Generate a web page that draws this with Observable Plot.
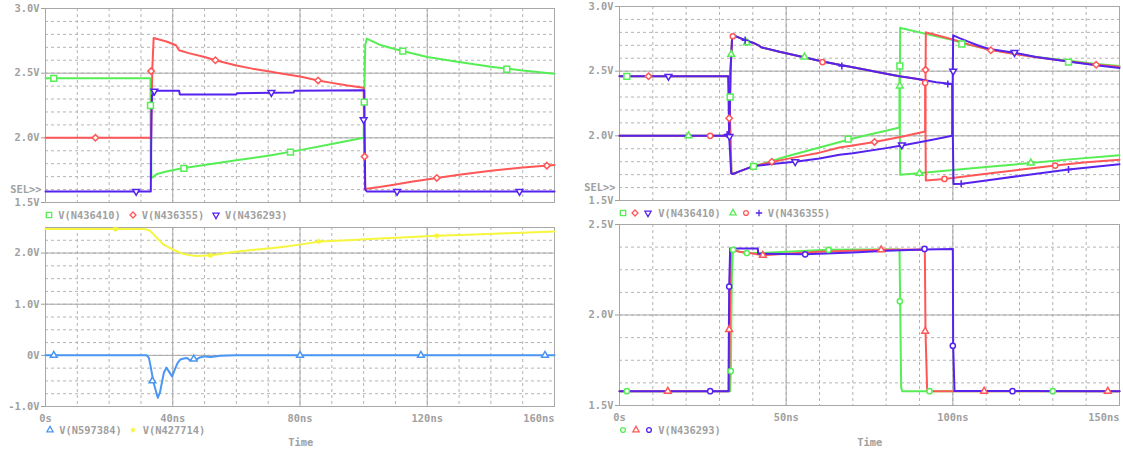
<!DOCTYPE html>
<html><head><meta charset="utf-8">
<script src="https://cdn.jsdelivr.net/npm/d3@7"></script>
<script src="https://cdn.jsdelivr.net/npm/@observablehq/plot@0.6"></script>
<style>
body{margin:0;background:#fff;}
#root{position:relative;width:1123px;height:450px;overflow:hidden;background:#fff;font-family:"DejaVu Sans Mono",monospace;}
.t{position:absolute;font-size:10.4px;line-height:12px;color:#a0a0a0;font-weight:bold;white-space:pre;}
.s{position:absolute;}
</style></head><body><div id="root"></div><script>
// ---------------- DATA ----------------
// Top-left panel (0..160 ns, 1.5..3.0 V)
const tlT410 = [0, 33, 33.1, 33.2, 33.3, 34, 35, 38, 43, 50, 60, 70, 80, 90, 100, 100.2, 100.5, 101, 105, 110, 120, 130, 140, 150, 160];
const tlV410 = [2.46, 2.46, 1.69, 1.86, 1.69, 1.70, 1.72, 1.74, 1.764, 1.79, 1.826, 1.862, 1.905, 1.952, 2.0, 2.3, 2.72, 2.767, 2.72, 2.685, 2.625, 2.586, 2.55, 2.52, 2.496];
const tlT355 = [0, 33.2, 33.4, 33.6, 34, 38, 41, 42, 45, 50, 53.4, 60, 65, 70, 74, 80, 85.7, 90, 95, 100, 100.2, 100.5, 105, 110, 115, 123, 130, 140, 150, 160];
const tlV355 = [2.0, 2.0, 2.3, 2.55, 2.772, 2.745, 2.716, 2.677, 2.655, 2.625, 2.60, 2.56, 2.535, 2.515, 2.498, 2.475, 2.444, 2.425, 2.405, 2.388, 1.9, 1.605, 1.62, 1.64, 1.66, 1.69, 1.715, 1.745, 1.77, 1.79];
const tlT293 = [0, 33.1, 33.3, 33.5, 33.8, 34.1, 42, 42.2, 60, 60.2, 78, 78.2, 100.2, 100.5, 101, 160];
const tlV293 = [1.586, 1.586, 2.17, 2.33, 2.33, 2.365, 2.365, 2.336, 2.336, 2.345, 2.35, 2.364, 2.367, 1.6, 1.586, 1.586];
const tlMk410T = [2.6, 33, 43.5, 77, 100.2, 112.3, 145];
const tlMk410V = [2.46, 2.25, 1.764, 1.89, 2.276, 2.67, 2.53];
const tlMk355T = [15.7, 33.2, 53.4, 85.7, 100.3, 123, 157.6];
const tlMk355V = [2.0, 2.516, 2.60, 2.444, 1.855, 1.69, 1.785];
const tlMk293T = [28.5, 34.2, 71, 100, 110.5, 149];
const tlMk293V = [1.586, 2.361, 2.35, 2.14, 1.586, 1.586];

// Bottom-left panel (0..160 ns, -1.0..2.5 V)
const blT427 = [0, 30, 32, 33, 35, 37, 40, 43, 45, 47.6, 51.8, 55, 59, 65, 70.7, 75, 80, 86, 95, 105, 115, 123, 135, 145, 160];
const blV427 = [2.47, 2.47, 2.46, 2.43, 2.3, 2.17, 2.07, 1.99, 1.96, 1.945, 1.955, 1.98, 2.02, 2.06, 2.096, 2.125, 2.165, 2.226, 2.253, 2.283, 2.313, 2.337, 2.364, 2.386, 2.42];
const blT597 = [0, 31.8, 32.5, 33, 34, 35.3, 36, 37.2, 38, 39.8, 40.5, 41.5, 42.4, 43.5, 44.5, 45.5, 46.5, 47.5, 48.5, 50, 52, 55, 60, 160];
const blV597 = [0, 0, -0.05, -0.2, -0.54, -0.83, -0.72, -0.34, -0.24, -0.41, -0.3, -0.15, -0.08, -0.06, -0.05, -0.1, -0.06, -0.08, -0.04, -0.02, -0.03, -0.01, 0, 0];
const blMk597T = [2.6, 33.6, 46.6, 80, 118, 157];
const blMk597V = [0, -0.5, -0.07, 0, 0, 0];
const blMk427T = [22, 51.8, 86, 123];
const blMk427V = [2.47, 1.955, 2.226, 2.337];

// Top-right panel (0..150 ns, 1.5..3.0 V) : three runs (green, red, blue)
const trT410g = [0, 32.7, 33, 33.6, 34, 36, 40, 45, 50, 55, 60, 65, 70, 75, 80, 84, 84.2, 85, 90, 95, 100, 103, 111, 118, 125, 135, 143, 150];
const trV410g = [2.46, 2.46, 2.3, 1.71, 1.705, 1.725, 1.764, 1.80, 1.84, 1.875, 1.91, 1.945, 1.98, 2.01, 2.04, 2.064, 2.836, 2.83, 2.80, 2.77, 2.74, 2.715, 2.668, 2.638, 2.61, 2.58, 2.556, 2.54];
const trT410r = [0, 32.8, 33.1, 33.6, 34, 36, 40, 45.7, 50, 55, 60, 66, 70, 76.5, 80, 85, 91.7, 91.9, 95, 100, 105, 111, 118, 125, 135, 143, 150];
const trV410r = [2.46, 2.46, 2.14, 1.71, 1.705, 1.725, 1.764, 1.798, 1.82, 1.845, 1.87, 1.91, 1.925, 1.953, 1.97, 1.995, 2.033, 2.80, 2.78, 2.745, 2.705, 2.665, 2.635, 2.608, 2.575, 2.55, 2.535];
const trT410b = [0, 32.6, 32.9, 33.5, 34, 36, 40, 45, 52.7, 60, 66, 70, 80, 84.7, 90, 95, 99.8, 100.1, 102, 105, 108, 111, 118.5, 125, 135, 143, 150];
const trV410b = [2.46, 2.46, 2.0, 1.71, 1.705, 1.725, 1.764, 1.78, 1.80, 1.825, 1.854, 1.865, 1.905, 1.925, 1.95, 1.975, 2.0, 2.777, 2.755, 2.725, 2.695, 2.672, 2.642, 2.61, 2.572, 2.545, 2.525];
const trT355g = [0, 32.5, 33, 33.3, 33.8, 34.2, 37.7, 40, 41.7, 42.5, 48, 55, 60.9, 66.7, 70, 75, 80, 84, 84.2, 89.7, 100, 110, 123.4, 135, 150];
const trV355g = [2.0, 2.0, 2.05, 2.5, 2.77, 2.777, 2.74, 2.72, 2.70, 2.685, 2.65, 2.61, 2.575, 2.545, 2.53, 2.505, 2.48, 2.46, 1.70, 1.71, 1.735, 1.759, 1.79, 1.818, 1.85];
const trT355r = [0, 32.5, 33, 33.3, 33.8, 34.2, 37.7, 40, 41.7, 42.5, 48, 55, 60.9, 66.7, 70, 75, 80, 84, 88, 91.7, 91.9, 97.5, 110, 120, 130.7, 140, 150];
const trV355r = [2.0, 2.0, 2.05, 2.5, 2.77, 2.777, 2.74, 2.72, 2.70, 2.685, 2.65, 2.61, 2.575, 2.545, 2.53, 2.505, 2.48, 2.46, 2.445, 2.43, 1.654, 1.667, 1.706, 1.738, 1.77, 1.795, 1.815];
const trT355b = [0, 32.5, 33, 33.3, 33.8, 34.2, 37.7, 40, 41.7, 42.5, 48, 55, 60.9, 66.7, 70, 75, 80, 84, 88, 91.7, 95, 99.8, 100.2, 102.7, 110, 120, 134.7, 150];
const trV355b = [2.0, 2.0, 2.05, 2.5, 2.77, 2.777, 2.74, 2.72, 2.70, 2.685, 2.65, 2.61, 2.575, 2.545, 2.53, 2.505, 2.48, 2.46, 2.445, 2.43, 2.415, 2.40, 1.628, 1.63, 1.655, 1.69, 1.74, 1.78];
const trMk410gT = [2.2, 33.2, 40.2, 68.6, 84.1, 102.7, 134.7];
const trMk410gV = [2.46, 2.30, 1.764, 1.974, 2.54, 2.71, 2.57];
const trMk410rT = [8.7, 32.9, 45.7, 76.5, 91.8, 111.4, 143];
const trMk410rV = [2.46, 2.136, 1.80, 1.953, 2.51, 2.662, 2.55];
const trMk410bT = [14.7, 33, 52.7, 84.7, 100.1, 118.5];
const trMk410bV = [2.46, 1.995, 1.80, 1.93, 2.50, 2.644];
const trMk355gT = [20.7, 33.5, 38.2, 55.5, 84.1, 90, 123.4];
const trMk355gV = [2.0, 2.63, 2.72, 2.61, 2.385, 1.71, 1.79];
const trMk355rT = [27.2, 34, 60.9, 91.7, 97.5, 130.7];
const trMk355rV = [2.0, 2.77, 2.57, 2.41, 1.667, 1.77];
const trMk355bT = [32.3, 37.7, 66.7, 98.5, 102.5, 134.7];
const trMk355bV = [2.01, 2.74, 2.54, 2.40, 1.63, 1.74];

// Bottom-right panel (0..150 ns, 1.5..2.5 V) : V(N436293), three runs
const brTg = [0, 33.2, 33.4, 33.7, 34, 36, 38, 42, 50, 62.7, 75, 84, 84.2, 84.5, 84.8, 150];
const brVg = [1.579, 1.579, 1.69, 2.2, 2.36, 2.35, 2.342, 2.342, 2.35, 2.36, 2.362, 2.362, 2.07, 1.6, 1.579, 1.579];
const brTr = [0, 32.9, 33.1, 33.4, 36, 40, 43, 50, 60, 78.5, 91.6, 91.8, 92.3, 150];
const brVr = [1.579, 1.579, 1.92, 2.36, 2.35, 2.34, 2.33, 2.338, 2.35, 2.36, 2.362, 1.91, 1.579, 1.579];
const brTb = [0, 32.7, 32.9, 33.2, 41.5, 41.6, 55.7, 70, 80, 91.5, 100, 100.1, 100.5, 150];
const brVb = [1.579, 1.579, 2.157, 2.367, 2.367, 2.339, 2.335, 2.345, 2.355, 2.362, 2.365, 1.83, 1.58, 1.579];
const brMkgT = [2.2, 33.4, 34.1, 38.2, 62.7, 84.1, 93, 130];
const brMkgV = [1.579, 1.69, 2.36, 2.342, 2.36, 2.076, 1.579, 1.579];
const brMkrT = [14.5, 32.9, 43, 78.5, 91.7, 109.4, 146.5];
const brMkrV = [1.579, 1.92, 2.33, 2.36, 1.91, 1.579, 1.579];
const brMkbT = [27.2, 32.9, 55.7, 91.5, 100, 117.9];
const brMkbV = [1.579, 2.157, 2.335, 2.365, 1.83, 1.579];

// Axis ticks / labels
const tlYTicks = [3.0, 2.5, 2.0, 1.5], tlYLabels = ["3.0V", "2.5V", "2.0V", "1.5V"];
const blYTicks = [2.0, 1.0, 0, -1.0], blYLabels = ["2.0V", "1.0V", "0V", "-1.0V"];
const trYTicks = [3.0, 2.5, 2.0, 1.5], trYLabels = ["3.0V", "2.5V", "2.0V", "1.5V"];
const brYTicks = [2.5, 2.0, 1.5], brYLabels = ["2.5V", "2.0V", "1.5V"];
const leftXTicks = [0, 40, 80, 120, 160], leftXLabels = ["0s", "40ns", "80ns", "120ns", "160ns"];
const rightXTicks = [0, 50, 100, 150], rightXLabels = ["0s", "50ns", "100ns", "150ns"];
const tlLegend = ["V(N436410)", "V(N436355)", "V(N436293)"];
const blLegend = ["V(N597384)", "V(N427714)"];
const trLegend = ["V(N436410)", "V(N436355)"];
const brLegend = ["V(N436293)"];
const xTitle = "Time";

// ---------------- STYLE ----------------
const GREEN = "#55ee55", RED = "#ff5757", BLUE = "#5522ee", YELLOW = "#f6f63e", LBLUE = "#4a96f5";
const TEXT = "#a0a0a0", GRID = "#b4b4b4", GRID2 = "#a8a8a8";
const triDown = {draw(ctx, size){ const y = -Math.sqrt(size / (Math.sqrt(3) * 3)); ctx.moveTo(0, -2 * y); ctx.lineTo(-Math.sqrt(3) * y, y); ctx.lineTo(Math.sqrt(3) * y, y); ctx.closePath(); }};
const SYM = {
  square: {s: d3.symbolSquare, r: 3.3, fill: "white"},
  diamond: {s: d3.symbolDiamond2, r: 2.9, fill: "white"},
  tridown: {s: triDown, r: 2.5, fill: "white"},
  triup: {s: d3.symbolTriangle, r: 2.5, fill: "white"},
  circle: {s: d3.symbolCircle, r: 2.6, fill: "white"},
  plus: {s: d3.symbolPlus, r: 2.4, fill: "none"},
  asterisk: {s: d3.symbolAsterisk, r: 2.5, fill: "none"}
};
const zip = (t, v) => t.map((x, i) => ({t: x, v: v[i]}));

function buildPanel(cfg) {
  const fmt = new Map(cfg.yTicks.map((t, i) => [t, cfg.yLabels[i]]));
  const marks = [
    Plot.ruleY(cfg.yMinor, {stroke: GRID, strokeDasharray: "3,3"}),
    Plot.ruleX(cfg.xMinor, {stroke: GRID, strokeDasharray: "3,3"}),
    Plot.ruleY(cfg.yMajor, {stroke: GRID2}),
    Plot.ruleX(cfg.xMajor, {stroke: GRID2}),
    Plot.frame({stroke: GRID2}),
    Plot.axisY({ticks: cfg.yTicks, tickFormat: d => fmt.get(d), tickSize: 4, tickPadding: 2, color: TEXT, label: null})
  ];
  for (const s of cfg.series) marks.push(Plot.line(zip(s.t, s.v), {x: "t", y: "v", stroke: s.color, strokeWidth: 2}));
  for (const m of cfg.markers) {
    const sy = SYM[m.sym];
    marks.push(Plot.dot(zip(m.t, m.v), {x: "t", y: "v", symbol: sy.s, r: sy.r, stroke: m.color, fill: sy.fill, strokeWidth: 1.5}));
  }
  if (cfg.sel) marks.push(Plot.text(["SEL>>"], {x: cfg.xDomain[0], y: 1.6, dx: -4, textAnchor: "end", text: d => d, fill: TEXT}));
  if (cfg.xTicks) {
    const n = cfg.xTicks.length;
    const lab = d => cfg.xLabels[cfg.xTicks.indexOf(d)];
    marks.push(Plot.text(cfg.xTicks.slice(0, n - 1), {x: d => d, y: cfg.yDomain[0], dy: 12, text: lab, fill: TEXT}));
    marks.push(Plot.text([cfg.xTicks[n - 1]], {x: d => d, y: cfg.yDomain[0], dy: 12, text: lab, fill: TEXT, textAnchor: "end"}));
  }
  const svg = Plot.plot({
    width: cfg.w, height: cfg.h,
    marginLeft: cfg.ml, marginRight: cfg.mr, marginTop: cfg.mt, marginBottom: cfg.mb,
    x: {domain: cfg.xDomain, axis: null},
    y: {domain: cfg.yDomain},
    style: {fontFamily: '"DejaVu Sans Mono", monospace', fontSize: "10.4px", fontWeight: "bold", background: "transparent", overflow: "visible"},
    marks
  });
  svg.style.position = "absolute";
  svg.style.left = cfg.left + "px";
  svg.style.top = cfg.top + "px";
  return svg;
}

const root = document.getElementById("root");
const rng = (a, b, s) => d3.range(a, b + s / 2, s).map(v => +v.toFixed(4));

root.appendChild(buildPanel({
  left: 0, top: 0, w: 560, h: 212, ml: 45, mr: 6, mt: 8, mb: 10,
  xDomain: [0, 160], yDomain: [1.5, 3.0],
  xMinor: rng(10, 150, 10), xMajor: [40, 80, 120], yMinor: rng(1.6, 2.9, 0.1), yMajor: [2.0, 2.5],
  yTicks: tlYTicks, yLabels: tlYLabels, sel: true,
  series: [{t: tlT410, v: tlV410, color: GREEN}, {t: tlT355, v: tlV355, color: RED}, {t: tlT293, v: tlV293, color: BLUE}],
  markers: [{t: tlMk410T, v: tlMk410V, color: GREEN, sym: "square"}, {t: tlMk355T, v: tlMk355V, color: RED, sym: "diamond"}, {t: tlMk293T, v: tlMk293V, color: BLUE, sym: "tridown"}]
}));
root.appendChild(buildPanel({
  left: 0, top: 218, w: 560, h: 210, ml: 45, mr: 6, mt: 9, mb: 22,
  xDomain: [0, 160], yDomain: [-1.0, 2.5],
  xMinor: rng(10, 150, 10), xMajor: [40, 80, 120], yMinor: rng(-0.75, 2.25, 0.25), yMajor: [0, 1.0, 2.0],
  yTicks: blYTicks, yLabels: blYLabels, xTicks: leftXTicks, xLabels: leftXLabels,
  series: [{t: blT427, v: blV427, color: YELLOW}, {t: blT597, v: blV597, color: LBLUE}],
  markers: [{t: blMk597T, v: blMk597V, color: LBLUE, sym: "triup"}, {t: blMk427T, v: blMk427V, color: YELLOW, sym: "asterisk"}]
}));
root.appendChild(buildPanel({
  left: 565, top: 0, w: 558, h: 210, ml: 54, mr: 4, mt: 6, mb: 10,
  xDomain: [0, 150], yDomain: [1.5, 3.0],
  xMinor: rng(10, 140, 10), xMajor: [50, 100], yMinor: rng(1.6, 2.9, 0.1), yMajor: [2.0, 2.5],
  yTicks: trYTicks, yLabels: trYLabels, sel: true,
  series: [
    {t: trT410g, v: trV410g, color: GREEN}, {t: trT355g, v: trV355g, color: GREEN},
    {t: trT410r, v: trV410r, color: RED}, {t: trT355r, v: trV355r, color: RED},
    {t: trT410b, v: trV410b, color: BLUE}, {t: trT355b, v: trV355b, color: BLUE}],
  markers: [
    {t: trMk410gT, v: trMk410gV, color: GREEN, sym: "square"}, {t: trMk410rT, v: trMk410rV, color: RED, sym: "diamond"},
    {t: trMk410bT, v: trMk410bV, color: BLUE, sym: "tridown"}, {t: trMk355gT, v: trMk355gV, color: GREEN, sym: "triup"},
    {t: trMk355rT, v: trMk355rV, color: RED, sym: "circle"}, {t: trMk355bT, v: trMk355bV, color: BLUE, sym: "plus"}]
}));
root.appendChild(buildPanel({
  left: 565, top: 216, w: 558, h: 212, ml: 54, mr: 4, mt: 8, mb: 23,
  xDomain: [0, 150], yDomain: [1.5, 2.5],
  xMinor: rng(10, 140, 10), xMajor: [50, 100], yMinor: rng(1.625, 2.375, 0.125), yMajor: [2.0],
  yTicks: brYTicks, yLabels: brYLabels, xTicks: rightXTicks, xLabels: rightXLabels,
  series: [{t: brTg, v: brVg, color: GREEN}, {t: brTr, v: brVr, color: RED}, {t: brTb, v: brVb, color: BLUE}],
  markers: [{t: brMkgT, v: brMkgV, color: GREEN, sym: "circle"}, {t: brMkrT, v: brMkrV, color: RED, sym: "triup"}, {t: brMkbT, v: brMkbV, color: BLUE, sym: "circle"}]
}));

// ---------------- legends (HTML below each plot) ----------------
function addText(x, y, txt) {
  const d = document.createElement("div");
  d.className = "t"; d.textContent = txt;
  d.style.left = x + "px"; d.style.top = (y - 6) + "px";
  root.appendChild(d);
}
function addSym(x, y, sym, color) {
  const sy = SYM[sym];
  const ns = "http://www.w3.org/2000/svg";
  const svg = document.createElementNS(ns, "svg");
  svg.setAttribute("width", 12); svg.setAttribute("height", 12);
  svg.setAttribute("class", "s");
  svg.style.left = (x - 6) + "px"; svg.style.top = (y - 6) + "px";
  const p = document.createElementNS(ns, "path");
  p.setAttribute("d", d3.symbol(sy.s, Math.PI * sy.r * sy.r * 0.85)());
  p.setAttribute("transform", "translate(6,6)");
  p.setAttribute("stroke", color); p.setAttribute("fill", "none"); p.setAttribute("stroke-width", 1.3);
  svg.appendChild(p);
  root.appendChild(svg);
}
addSym(49, 214.5, "square", GREEN); addText(58.3, 214.5, tlLegend[0]);
addSym(133.3, 214.5, "diamond", RED); addText(141.7, 214.5, tlLegend[1]);
addSym(215.7, 214.5, "tridown", BLUE); addText(225, 214.5, tlLegend[2]);

addSym(50, 430, "triup", LBLUE); addText(59.3, 430, blLegend[0]);
addSym(133.3, 430, "asterisk", YELLOW); addText(142.7, 430, blLegend[1]);

addSym(622.7, 213.3, "square", GREEN); addSym(635, 213.3, "diamond", RED); addSym(648.3, 213.3, "tridown", BLUE);
addText(658.3, 213.3, trLegend[0]);
addSym(732.7, 213.3, "triup", GREEN); addSym(745.7, 213.3, "circle", RED); addSym(759, 213.3, "plus", BLUE);
addText(767.7, 213.3, trLegend[1]);

addSym(622.7, 430, "circle", GREEN); addSym(635.7, 430, "triup", RED); addSym(649, 430, "circle", BLUE);
addText(658.3, 430, brLegend[0]);

addText(288.3, 442, xTitle);
addText(857.3, 442, xTitle);
</script></body></html>
